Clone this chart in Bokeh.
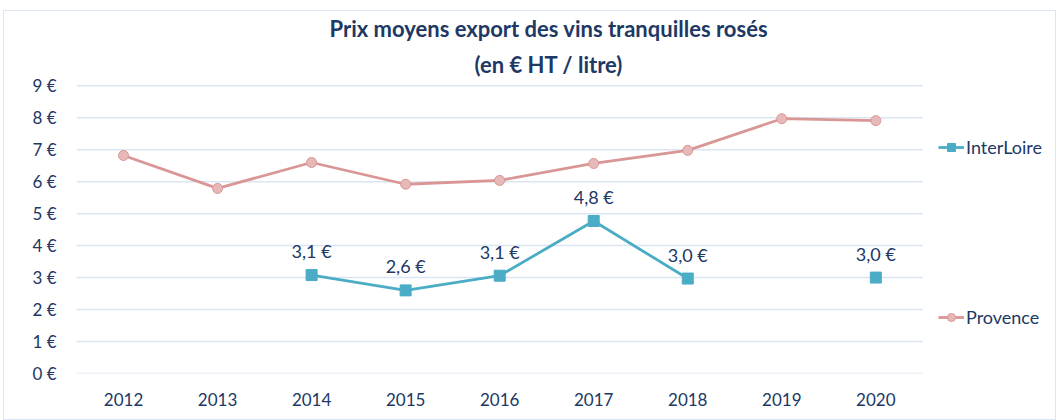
from bokeh.plotting import figure
from bokeh.models import (ColumnDataSource, Range1d, Title, Legend,
                          LegendItem, FixedTicker)
from bokeh.embed import file_html
from bokeh.resources import INLINE

years = ["2012", "2013", "2014", "2015", "2016", "2017", "2018", "2019", "2020"]
provence = [6.82, 5.79, 6.6, 5.92, 6.04, 6.57, 6.98, 7.97, 7.91]
interloire = [None, None, 3.08, 2.6, 3.06, 4.77, 2.97, None, 3.0]
y_ticks = [0, 1, 2, 3, 4, 5, 6, 7, 8, 9]

FONT = "Lato"
TXT = "#203864"
ROSE = "#D99694"
ROSE_FILL = "#E6B9B8"
TEAL = "#4BACC6"
GRID = "#DCE6F2"

idx = list(range(len(years)))

p = figure(x_range=Range1d(-0.5, 9.9), y_range=Range1d(0, 9.04),
           width=1053, height=410, output_backend="svg", toolbar_location=None,
           min_border_left=72, min_border_right=3, min_border_top=73,
           min_border_bottom=48, margin=(10, 0, 0, 3),
           styles={"border": "1px solid #DCE6F2"})
p.title = None
p.outline_line_color = None
p.background_fill_color = "white"
p.border_fill_color = "white"

# titles
t2 = Title(text="(en € HT / litre)", align="left", text_font=FONT,
           text_font_size="22px", text_font_style="bold", text_color=TXT,
           offset=398, standoff=14)
t1 = Title(text="Prix moyens export des vins tranquilles rosés", align="left",
           text_font=FONT, text_font_size="22px", text_font_style="bold",
           text_color=TXT, offset=253, standoff=0)
p.add_layout(t2, "above")
p.add_layout(t1, "above")

# horizontal gridlines spanning the category area only
p.xgrid.grid_line_color = None
p.ygrid.grid_line_color = None
p.segment(x0=[-0.5] * len(y_ticks), x1=[len(years) - 0.5] * len(y_ticks),
          y0=y_ticks, y1=y_ticks, line_color=GRID, line_width=1.5)

# Provence
src_p = ColumnDataSource(dict(x=idx, y=provence))
lp = p.line("x", "y", source=src_p, line_color=ROSE, line_width=2.8)
sp = p.scatter("x", "y", source=src_p, size=10, marker="circle",
               fill_color=ROSE_FILL, line_color=ROSE, line_width=1)

# InterLoire
yi = [float("nan") if v is None else v for v in interloire]
src_i = ColumnDataSource(dict(x=idx, y=yi))
li = p.line("x", "y", source=src_i, line_color=TEAL, line_width=2.8)
si = p.scatter("x", "y", source=src_i, size=11, marker="square",
               fill_color=TEAL, line_color=TEAL)

lx = [i for i, v in zip(idx, interloire) if v is not None]
ly = [v for v in interloire if v is not None]
lt = [f"{v:.1f} €".replace(".", ",") for v in ly]
src_l = ColumnDataSource(dict(x=lx, y=ly, t=lt))
p.text("x", "y", text="t", source=src_l, text_align="center",
       text_baseline="bottom", y_offset=-13, text_font={"value": FONT},
       text_font_size="18px", text_color=TXT)

# axes
p.xaxis.ticker = FixedTicker(ticks=idx)
p.xaxis.major_label_overrides = {i: y for i, y in zip(idx, years)}
p.yaxis.ticker = FixedTicker(ticks=y_ticks)
p.yaxis.major_label_overrides = {t: f"{t} €" for t in y_ticks}
for ax in (p.xaxis[0], p.yaxis[0]):
    ax.axis_line_color = None
    ax.major_tick_line_color = None
    ax.minor_tick_line_color = None
    ax.major_label_text_font = FONT
    ax.major_label_text_font_size = "17px"
    ax.major_label_text_color = TXT
p.yaxis.major_label_standoff = 14
p.xaxis.major_label_standoff = 13

# legends
common = dict(background_fill_alpha=0, border_line_color=None, padding=0, margin=0,
              glyph_width=26, glyph_height=20, label_standoff=2, label_height=20,
              label_text_font=FONT, label_text_font_size="18px", label_text_color=TXT)
leg1 = Legend(items=[LegendItem(label="InterLoire", renderers=[li, si])],
              location=(862, 215), **common)
leg2 = Legend(items=[LegendItem(label="Provence", renderers=[lp, sp])],
              location=(862, 45), **common)
p.add_layout(leg1, "center")
p.add_layout(leg2, "center")

open("out.html", "w").write(file_html(p, INLINE))
